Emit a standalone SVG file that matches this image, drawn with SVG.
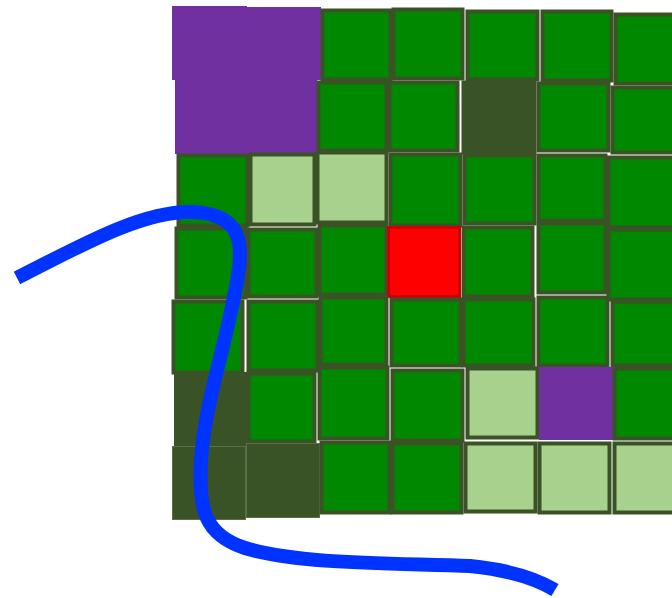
<svg xmlns="http://www.w3.org/2000/svg" width="672" height="598" viewBox="0 0 672 598">
<style>
.g{fill:#008800;stroke:#3a5326;stroke-width:4}
.l{fill:#a9d18e;stroke:#3a5326;stroke-width:4}
.d{fill:#3a5326;stroke:#3a5326;stroke-width:2}
.p{fill:#7030a0}
.r{fill:#ff0000;stroke:#cc0000;stroke-width:3}
.river{fill:none;stroke:#0033ff;stroke-width:14}
</style>
<rect width="672" height="598" fill="#ffffff"/>
<g id="grid">
<!-- row 0 -->
<rect class="p" x="172" y="6" width="75" height="74"/>
<rect class="p" x="247" y="7" width="74" height="73"/>
<rect class="g" x="322.5" y="10.5" width="68" height="69"/>
<rect class="g" x="393.5" y="9.5" width="69" height="69"/>
<rect class="g" x="467.5" y="11.5" width="70" height="68"/>
<rect class="g" x="542.5" y="11.5" width="69" height="69"/>
<rect class="g" x="615.5" y="14.5" width="70" height="69"/>
<!-- row 1 -->
<rect class="p" x="175" y="80" width="72" height="74"/>
<rect class="p" x="247" y="80" width="70" height="74"/>
<rect class="g" x="318.5" y="82.5" width="68" height="68"/>
<rect class="g" x="389.5" y="82.5" width="68" height="68"/>
<rect class="d" x="462.5" y="81.5" width="73" height="72"/>
<rect class="g" x="538.5" y="83.5" width="70" height="67"/>
<rect class="g" x="612.5" y="87.5" width="70" height="65"/>
<!-- row 2 -->
<rect class="g" x="178.5" y="155.5" width="69" height="70"/>
<rect class="l" x="250.5" y="154.5" width="64" height="70"/>
<rect class="l" x="317.5" y="152.5" width="69" height="70"/>
<rect class="g" x="390.5" y="154.5" width="70" height="71"/>
<rect class="g" x="464.5" y="155.5" width="70" height="68"/>
<rect class="g" x="538.5" y="155.5" width="67" height="65"/>
<rect class="g" x="608.5" y="157.5" width="70" height="70"/>
<!-- row 3 -->
<rect class="g" x="176.5" y="228.5" width="69" height="69"/>
<rect class="g" x="248.5" y="229.5" width="68" height="67"/>
<rect class="g" x="319.5" y="225.5" width="67" height="69"/>
<rect class="r" x="388.5" y="227.5" width="71" height="69"/>
<rect class="g" x="463.5" y="227.5" width="69" height="69"/>
<rect class="g" x="538.5" y="223.5" width="67" height="69"/>
<rect class="g" x="608.5" y="229.5" width="70" height="70"/>
<!-- row 4 -->
<rect class="g" x="173.5" y="301.5" width="69" height="71"/>
<rect class="g" x="248.5" y="301.5" width="69" height="69"/>
<rect class="g" x="320.5" y="297.5" width="66" height="67"/>
<rect class="g" x="391.5" y="299.5" width="69" height="66"/>
<rect class="g" x="463.5" y="299.5" width="70" height="66"/>
<rect class="g" x="538.5" y="297.5" width="69" height="68"/>
<rect class="g" x="612.5" y="301.5" width="70" height="64"/>
<!-- row 5 -->
<rect fill="#3a5326" x="174" y="372" width="73" height="74"/>
<rect class="g" x="248.5" y="373.5" width="66" height="68"/>
<rect class="g" x="319.5" y="367.5" width="68" height="71"/>
<rect class="g" x="392.5" y="370.5" width="70" height="70"/>
<rect class="l" x="467.5" y="368.5" width="70" height="69"/>
<rect class="p" x="539" y="367" width="74" height="73"/>
<rect class="g" x="614.5" y="368.5" width="70" height="70"/>
<!-- row 6 -->
<rect fill="#3a5326" stroke="#5a7045" stroke-width="1" x="172.5" y="446.5" width="73" height="73"/>
<rect fill="#3a5326" stroke="#5a7045" stroke-width="1" x="246.5" y="443.5" width="73" height="74"/>
<rect class="g" x="321.5" y="442.5" width="68" height="70"/>
<rect class="g" x="392.5" y="443.5" width="69" height="69"/>
<rect class="l" x="465.5" y="443.5" width="70" height="68"/>
<rect class="l" x="539.5" y="443.5" width="70" height="69"/>
<rect class="l" x="614.5" y="443.5" width="70" height="69"/>
</g>
<g id="river">
<path class="river" d="M17,278 C85,243 145,210 193,212 C235,214 245,235 238,275 C228,340 205,400 201,460 C198,510 205,535 245,548 C300,565 400,563 470,566 C510,570 535,578 555,590"/>
</g>
</svg>
